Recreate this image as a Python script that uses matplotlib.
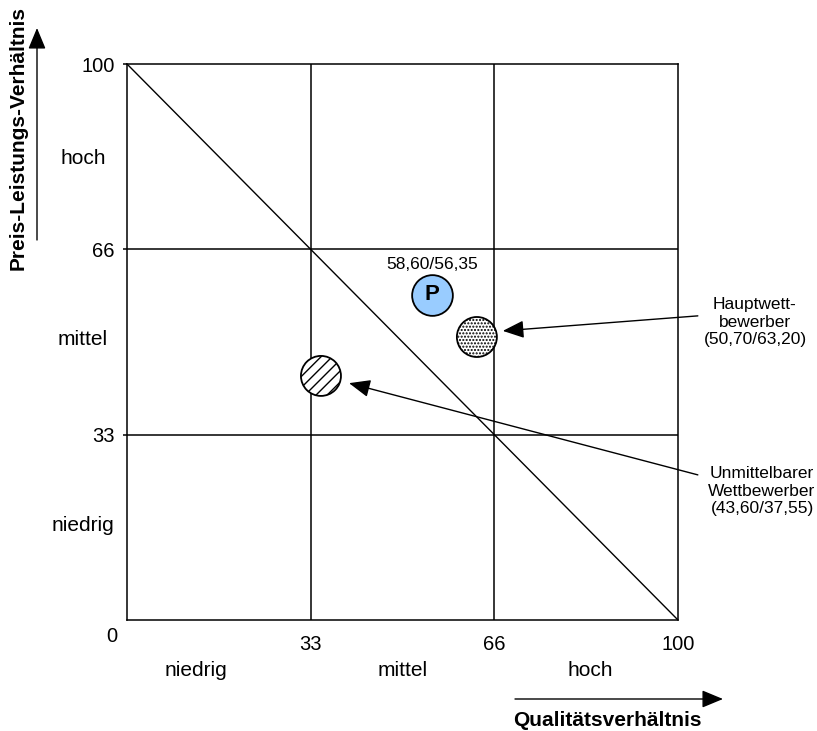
import matplotlib.pyplot as plt

plt.rcParams['font.family'] = ['Liberation Sans', 'DejaVu Sans']
plt.rcParams['hatch.linewidth'] = 1.0

# Achsen-Einteilung
tick_pos = [100 / 3, 200 / 3, 100]
tick_labels = ["33", "66", "100"]
cat_labels = ["niedrig", "mittel", "hoch"]
cat_x = [12.5, 50, 84]          # Lage der Kategorien unter der x-Achse
cat_y = [17, 50.5, 83]          # Lage der Kategorien links der y-Achse

# Positionen (Qualität, Preis-Leistung) und Beschriftungen
p_xy = (55.4, 58.5)
p_label = "58,60/56,35"
haupt_xy = (63.5, 50.9)
haupt_label = "Hauptwett-\nbewerber\n(50,70/63,20)"
unm_xy = (35.2, 43.9)
unm_label = "Unmittelbarer\nWettbewerber\n(43,60/37,55)"

fig = plt.figure(figsize=(8.17, 7.31), dpi=100)
ax = fig.add_axes([127 / 817, 1 - 620 / 731, 551 / 817, 556 / 731])
ax.set_xlim(0, 100)
ax.set_ylim(0, 100)

for s in ax.spines.values():
    s.set_linewidth(1.1)
    s.set_color('black')

# Raster und Diagonale
for g in tick_pos[:2]:
    ax.axvline(g, color='black', lw=1.1, zorder=1)
    ax.axhline(g, color='black', lw=1.1, zorder=1)
ax.plot([0, 100], [100, 0], color='black', lw=1.0, zorder=1)

ax.set_xticks(tick_pos)
ax.set_xticklabels(tick_labels, fontsize=14.5)
ax.set_yticks(tick_pos)
ax.set_yticklabels(tick_labels, fontsize=14.5)
ax.tick_params(axis='x', length=0, pad=11)
ax.tick_params(axis='y', length=3, width=1.1, pad=6)

# Kategorien
for x, lab in zip(cat_x, cat_labels):
    ax.text(x, -9.1, lab, ha='center', va='center', fontsize=15, clip_on=False)
for y, lab in zip(cat_y, cat_labels):
    ax.text(-8, y, lab, ha='center', va='center', fontsize=15, clip_on=False)

# Punkte
ax.scatter(*p_xy, s=860, facecolor='#99ccff', edgecolor='black', lw=1.3, zorder=3)
ax.text(*p_xy, "P", ha='center', va='center', fontsize=16, fontweight='bold', zorder=4)
ax.text(p_xy[0], p_xy[1] + 5.5, p_label, ha='center', va='center', fontsize=12.5)

ax.scatter(*haupt_xy, s=830, facecolor='white', edgecolor='black', lw=1.3,
           hatch='.....', zorder=3)
ax.scatter(*unm_xy, s=830, facecolor='white', edgecolor='black', lw=1.3,
           hatch='///', zorder=3)

# Pfeile zu den Wettbewerbern
arrow_kw = dict(arrowstyle='-|>,head_length=0.65,head_width=0.27', mutation_scale=20,
                color='black', lw=1.0, shrinkA=0, shrinkB=0)
ax.annotate("", xy=(68.2, 52.0), xytext=(103.6, 54.7), arrowprops=arrow_kw,
            annotation_clip=False)
ax.annotate("", xy=(40.3, 42.6), xytext=(103.6, 26.1), arrowprops=arrow_kw,
            annotation_clip=False)

fig.text(755 / 817, 1 - 322 / 731, haupt_label, ha='center', va='center',
         multialignment='center', fontsize=12.5, linespacing=1.22)
fig.text(762 / 817, 1 - 491 / 731, unm_label, ha='center', va='center',
         multialignment='center', fontsize=12.5, linespacing=1.22)

# "0" im Ursprung
fig.text(112 / 817, 1 - 636 / 731, "0", ha='center', va='center', fontsize=14.5)

# Achsentitel mit Pfeilen
ax.annotate("", xy=(723, 32), xytext=(515, 32), xycoords='figure pixels',
            textcoords='figure pixels', arrowprops=arrow_kw)
fig.text(607 / 817, 11 / 731, "Qualitätsverhältnis", ha='center', va='center',
         fontsize=15, fontweight='bold')
ax.annotate("", xy=(37, 731 - 28), xytext=(37, 731 - 240), xycoords='figure pixels',
            textcoords='figure pixels', arrowprops=arrow_kw)
fig.text(18 / 817, 1 - 138 / 731, "Preis-Leistungs-Verhältnis", rotation=90,
         ha='center', va='center', fontsize=15, fontweight='bold')

fig.savefig("out.png", dpi=100)
